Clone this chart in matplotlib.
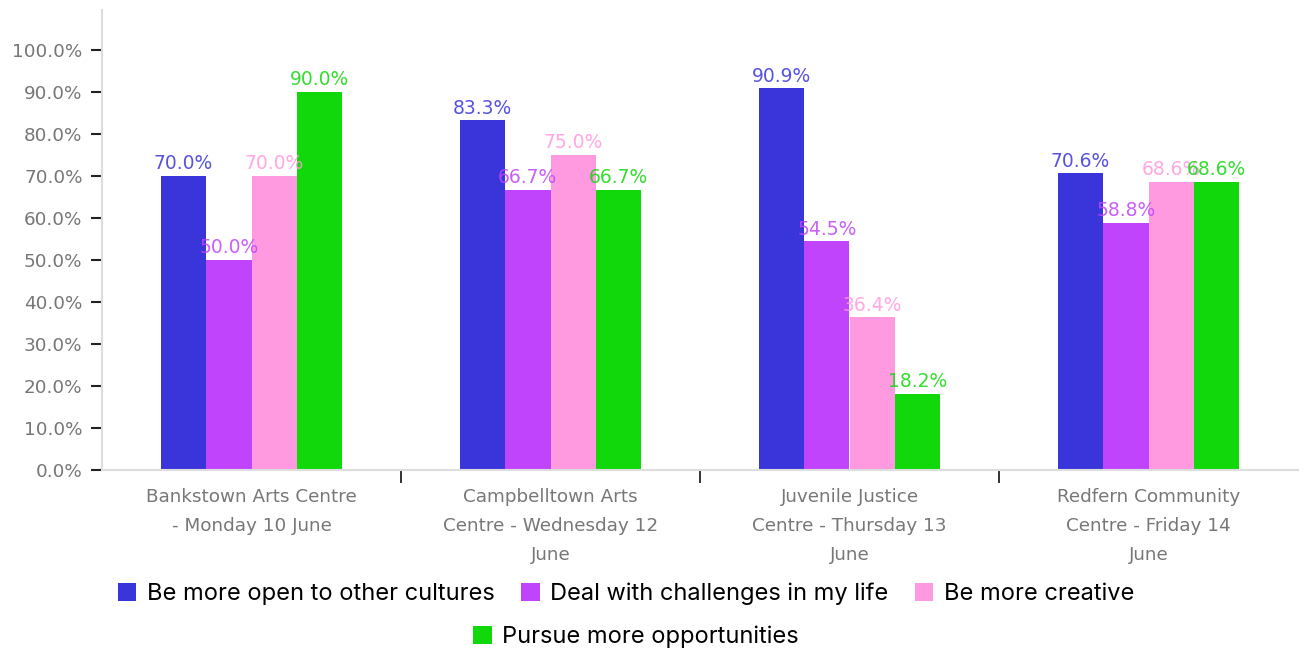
import matplotlib.pyplot as plt
import numpy as np

plt.rcParams['font.family'] = ['DejaVu Sans']

venues = [
    "Bankstown Arts Centre\n- Monday 10 June",
    "Campbelltown Arts\nCentre - Wednesday 12\nJune",
    "Juvenile Justice\nCentre - Thursday 13\nJune",
    "Redfern Community\nCentre - Friday 14\nJune",
]
series = [
    "Be more open to other cultures",
    "Deal with challenges in my life",
    "Be more creative",
    "Pursue more opportunities",
]
open_cultures = [70.0, 83.3, 90.9, 70.6]
challenges = [50.0, 66.7, 54.5, 58.8]
creative = [70.0, 75.0, 36.4, 68.6]
opportunities = [90.0, 66.7, 18.2, 68.6]
values = [open_cultures, challenges, creative, opportunities]
colors = ["#3A35DB", "#C044FB", "#FF99E0", "#10D80A"]

fig = plt.figure(figsize=(13.04, 6.55), dpi=100)
ax = fig.add_axes([102 / 1304, 185 / 655, 1196 / 1304, 460 / 655])

x = np.arange(len(venues))
w = 0.152
bars = []
for i, (name, vals, col) in enumerate(zip(series, values, colors)):
    pos = x + (i - 1.5) * w
    bars.append(ax.bar(pos, vals, width=w, color=col, label=name, zorder=2))
    for px, v in zip(pos, vals):
        ax.text(px, v + 0.6, f"{v:.1f}%", ha="center", va="bottom",
                fontsize=13.5, color=col, alpha=0.85, zorder=3)

ax.set_xlim(-0.5, 3.5)
ax.set_ylim(0, 109.5)
ax.set_yticks(np.arange(0, 101, 10))
ax.set_yticklabels([f"{t:.1f}%" for t in np.arange(0, 101, 10)],
                   fontsize=13.2, color="#777777")
ax.tick_params(axis="y", length=8, width=1.5, color="#222222", pad=6)

ax.set_xticks(x)
ax.set_xticklabels(venues, fontsize=13.2, color="#777777", linespacing=1.78)
ax.tick_params(axis="x", length=0, pad=13)
ax.set_xticks([0.5, 1.5, 2.5], minor=True)
ax.tick_params(axis="x", which="minor", length=9, width=1.3, color="#222222")

for s in ["top", "right"]:
    ax.spines[s].set_visible(False)
for s in ["left", "bottom"]:
    ax.spines[s].set_color("#dddddd")
    ax.spines[s].set_linewidth(1.5)

leg_kw = dict(frameon=False, handlelength=0.8, handleheight=0.8,
              handletextpad=0.45, columnspacing=1.1,
              prop={"family": ["Inter"], "size": 17})
fig.legend(bars[:3], series[:3], loc="center",
           bbox_to_anchor=(626 / 1304, 1 - 594 / 655), ncol=3, **leg_kw)
fig.legend(bars[3:], series[3:], loc="center",
           bbox_to_anchor=(636 / 1304, 1 - 637 / 655), ncol=1, **leg_kw)

fig.savefig("out.png", dpi=100)
